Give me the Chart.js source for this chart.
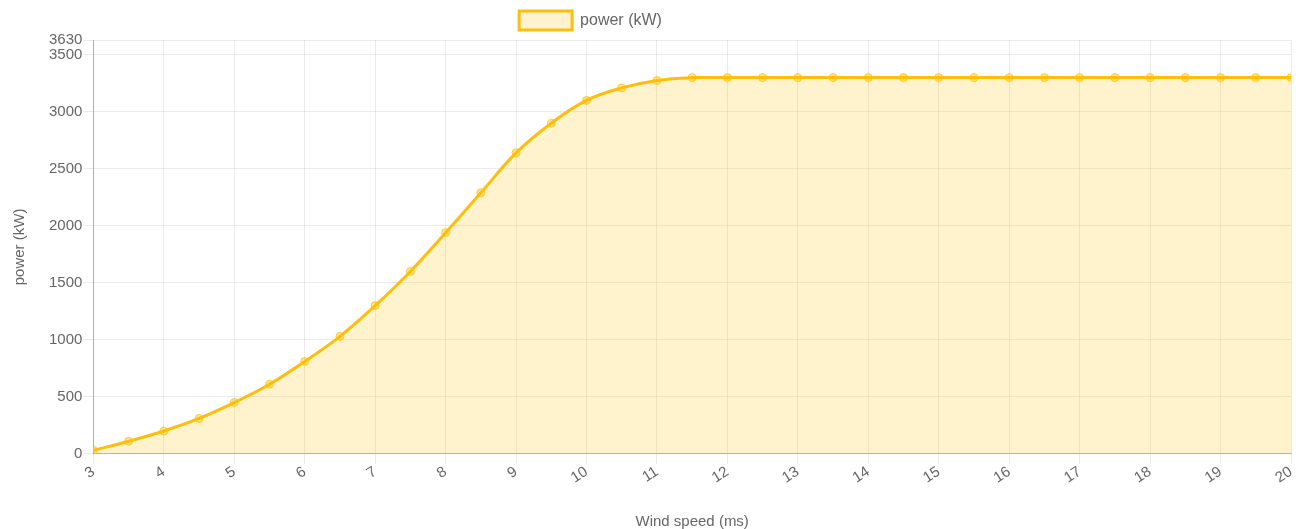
<!DOCTYPE html>
<html>
<head>
<meta charset="utf-8">
<script src="https://cdn.jsdelivr.net/npm/chart.js@4/dist/chart.umd.min.js"></script>
<style>
html,body{margin:0;padding:0;background:#fff;}
#wrap{width:1301px;height:529px;position:relative;}
</style>
</head>
<body>
<div id="wrap"><canvas id="c"></canvas></div>
<script>
const windSpeed = [3,3.5,4,4.5,5,5.5,6,6.5,7,7.5,8,8.5,9,9.5,10,10.5,11,11.5,12,12.5,13,13.5,14,14.5,15,15.5,16,16.5,17,17.5,18,18.5,19,19.5,20];
const power = [30,110,200,310,450,610,810,1030,1300,1600,1940,2290,2640,2900,3100,3210,3275,3300,3300,3300,3300,3300,3300,3300,3300,3300,3300,3300,3300,3300,3300,3300,3300,3300,3300];
const xTickValues = [3,4,5,6,7,8,9,10,11,12,13,14,15,16,17,18,19,20];
const yTickValues = [0,500,1000,1500,2000,2500,3000,3500,3630];
const seriesLabel = 'power (kW)';
const xTitle = 'Wind speed (ms)';
const yTitle = 'power (kW)';

const points = windSpeed.map((x, i) => ({x: x, y: power[i]}));
const lineColor = 'rgb(255,190,12)';
const fillColor = 'rgba(255,193,7,0.2)';
const txt = '#666';
const fontFam = '"Liberation Sans", Arial, Helvetica, sans-serif';

// shifts the legend block left of the canvas centre, as in the reference
const legendShift = {
  id: 'legendShift',
  afterLayout(chart) {
    if (chart.legend) { chart.legend.right -= 110; }
  }
};

new Chart(document.getElementById('c'), {
  type: 'line',
  plugins: [legendShift],
  data: {
    datasets: [{
      label: seriesLabel,
      data: points,
      borderColor: lineColor,
      backgroundColor: fillColor,
      borderWidth: 3,
      fill: 'origin',
      tension: 0.4,
      pointRadius: 4,
      pointBorderWidth: 1,
      pointBackgroundColor: 'rgba(255,193,7,0.45)',
      pointBorderColor: 'rgba(255,193,7,0.75)'
    }]
  },
  options: {
    responsive: true,
    maintainAspectRatio: false,
    animation: false,
    layout: {padding: {left: 0, right: 10, top: 1, bottom: -2}},
    plugins: {
      legend: {
        display: true,
        position: 'top',
        labels: {
          color: txt,
          font: {family: fontFam, size: 16},
          boxWidth: 53,
          boxHeight: 19,
          padding: 10
        }
      },
      tooltip: {enabled: false}
    },
    scales: {
      x: {
        type: 'linear',
        min: xTickValues[0],
        max: xTickValues[xTickValues.length - 1],
        afterBuildTicks: (axis) => { axis.ticks = xTickValues.map(v => ({value: v})); },
        ticks: {
          color: txt,
          font: {family: fontFam, size: 15},
          minRotation: 33,
          maxRotation: 33,
          padding: -1,
          callback: (v) => String(v)
        },
        grid: {color: 'rgba(0,0,0,0.08)', tickLength: 10},
        border: {color: 'rgba(0,0,0,0.25)'},
        title: {
          display: true,
          text: xTitle,
          color: txt,
          font: {family: fontFam, size: 15},
          padding: {top: 27, bottom: 0}
        }
      },
      y: {
        min: 0,
        max: yTickValues[yTickValues.length - 1],
        afterBuildTicks: (axis) => { axis.ticks = yTickValues.map(v => ({value: v})); },
        ticks: {
          color: txt,
          font: {family: fontFam, size: 15},
          padding: 1,
          callback: (v) => String(v)
        },
        grid: {color: 'rgba(0,0,0,0.08)', tickLength: 10},
        border: {color: 'rgba(0,0,0,0.25)'},
        title: {
          display: true,
          text: yTitle,
          color: txt,
          font: {family: fontFam, size: 15},
          padding: {top: 11, bottom: 19}
        }
      }
    }
  }
});
</script>
</body>
</html>
